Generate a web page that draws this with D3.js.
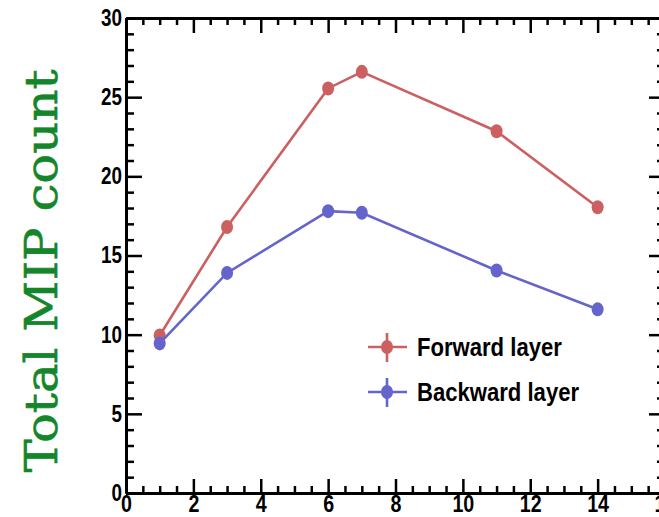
<!DOCTYPE html>
<html>
<head>
<meta charset="utf-8">
<script src="https://cdn.jsdelivr.net/npm/d3@7"></script>
<style>
  body { margin: 0; background: #fff; }
  svg { display: block; }
  .tick text { font-family: "Liberation Sans", Arial, sans-serif; font-weight: bold; }
</style>
</head>
<body>
<div id="chart"></div>
<script>
// chart data
const xValues = [1, 3, 6, 7, 11, 14];
const forwardLayer = [9.95, 16.8, 25.55, 26.6, 22.85, 18.05];
const backwardLayer = [9.45, 13.9, 17.8, 17.7, 14.05, 11.6];
const seriesNames = ["Forward layer", "Backward layer"];
const seriesColors = ["#cc6061", "#6464cc"];
const xMajorTicks = [0, 2, 4, 6, 8, 10, 12, 14, 16];
const yMajorTicks = [0, 5, 10, 15, 20, 25, 30];
const yLabel = "Total MIP count";

const width = 659, height = 517;
const plotLeft = 126, plotRight = 665, plotTop = 18, plotBottom = 493;
const squeeze = 0.82; // text in the reference is horizontally condensed

const svg = d3.select("#chart").append("svg")
    .attr("width", width)
    .attr("height", height);

const x = d3.scaleLinear().domain([0, 16]).range([plotLeft, plotRight]);
const y = d3.scaleLinear().domain([0, 30]).range([plotBottom, plotTop]);

const xMinor = d3.range(0, 16.01, 0.5).filter(v => v % 2 !== 0);
const yMinor = d3.range(0, 30.01, 1).filter(v => v % 5 !== 0);

// axes, ticks pointing inwards like ROOT
function styleAxis(g) {
    g.select(".domain").attr("stroke", "#000").attr("stroke-width", 3);
    g.selectAll(".tick line").attr("stroke", "#000").attr("stroke-width", 2.5);
}

// minor ticks first
svg.append("g").attr("transform", `translate(0,${plotBottom})`)
    .call(d3.axisBottom(x).tickValues(xMinor).tickSizeInner(-7).tickSizeOuter(0).tickFormat(""))
    .call(styleAxis);
svg.append("g").attr("transform", `translate(0,${plotTop})`)
    .call(d3.axisTop(x).tickValues(xMinor).tickSizeInner(-7).tickSizeOuter(0).tickFormat(""))
    .call(styleAxis);
svg.append("g").attr("transform", `translate(${plotLeft},0)`)
    .call(d3.axisLeft(y).tickValues(yMinor).tickSizeInner(-8).tickSizeOuter(0).tickFormat(""))
    .call(styleAxis);
svg.append("g").attr("transform", `translate(${plotRight},0)`)
    .call(d3.axisRight(y).tickValues(yMinor).tickSizeInner(-8).tickSizeOuter(0).tickFormat(""))
    .call(styleAxis);

// major ticks with labels
const xAxis = svg.append("g").attr("transform", `translate(0,${plotBottom})`)
    .call(d3.axisBottom(x).tickValues(xMajorTicks).tickSizeInner(-14).tickSizeOuter(0).tickPadding(2))
    .call(styleAxis);
xAxis.selectAll(".tick text")
    .attr("font-size", 24)
    .attr("fill", "#000")
    .attr("transform", `scale(${squeeze},1)`);

const yAxis = svg.append("g").attr("transform", `translate(${plotLeft},0)`)
    .call(d3.axisLeft(y).tickValues(yMajorTicks).tickSizeInner(-16).tickSizeOuter(0).tickPadding(5))
    .call(styleAxis);
yAxis.selectAll(".tick text")
    .attr("font-size", 23)
    .attr("fill", "#000")
    .attr("transform", `scale(${squeeze},1)`);

svg.append("g").attr("transform", `translate(0,${plotTop})`)
    .call(d3.axisTop(x).tickValues(xMajorTicks).tickSizeInner(-15).tickSizeOuter(0).tickFormat(""))
    .call(styleAxis);
svg.append("g").attr("transform", `translate(${plotRight},0)`)
    .call(d3.axisRight(y).tickValues(yMajorTicks).tickSizeInner(-16).tickSizeOuter(0).tickFormat(""))
    .call(styleAxis);

// y axis title
svg.append("text")
    .attr("transform", `translate(57,271) rotate(-90)`)
    .attr("text-anchor", "middle")
    .attr("font-family", "DejaVu Serif, serif")
    .attr("font-size", 45)
    .attr("fill", "#14862a")
    .attr("stroke", "#14862a")
    .attr("stroke-width", 0.6)
    .attr("textLength", 403)
    .attr("lengthAdjust", "spacingAndGlyphs")
    .text(yLabel);

// series
const series = [forwardLayer, backwardLayer];
const line = d3.line().x((d, i) => x(xValues[i])).y(d => y(d));

series.forEach((vals, s) => {
    const g = svg.append("g");
    g.append("path")
        .datum(vals)
        .attr("fill", "none")
        .attr("stroke", seriesColors[s])
        .attr("stroke-width", 2.6)
        .attr("d", line);
    g.selectAll("ellipse")
        .data(vals)
        .enter().append("ellipse")
        .attr("cx", (d, i) => x(xValues[i]))
        .attr("cy", d => y(d))
        .attr("rx", 6)
        .attr("ry", 7)
        .attr("fill", seriesColors[s]);
});

// legend
const legend = svg.append("g");
seriesNames.forEach((name, s) => {
    const ly = 347 + s * 45;
    const lg = legend.append("g").attr("transform", `translate(387,${ly})`);
    lg.append("line").attr("x1", -19).attr("x2", 20).attr("y1", 0).attr("y2", 0)
        .attr("stroke", seriesColors[s]).attr("stroke-width", 2.6);
    lg.append("line").attr("x1", 0).attr("x2", 0).attr("y1", -14).attr("y2", 15)
        .attr("stroke", seriesColors[s]).attr("stroke-width", 2.6);
    lg.append("ellipse").attr("rx", 6).attr("ry", 7).attr("fill", seriesColors[s]);
    lg.append("text")
        .attr("transform", "translate(30,0) scale(0.85,1)")
        .attr("dy", "0.36em")
        .attr("font-family", "Liberation Sans, Arial, sans-serif")
        .attr("font-weight", "bold")
        .attr("font-size", 26)
        .attr("fill", "#000")
        .text(name);
});
</script>
</body>
</html>
